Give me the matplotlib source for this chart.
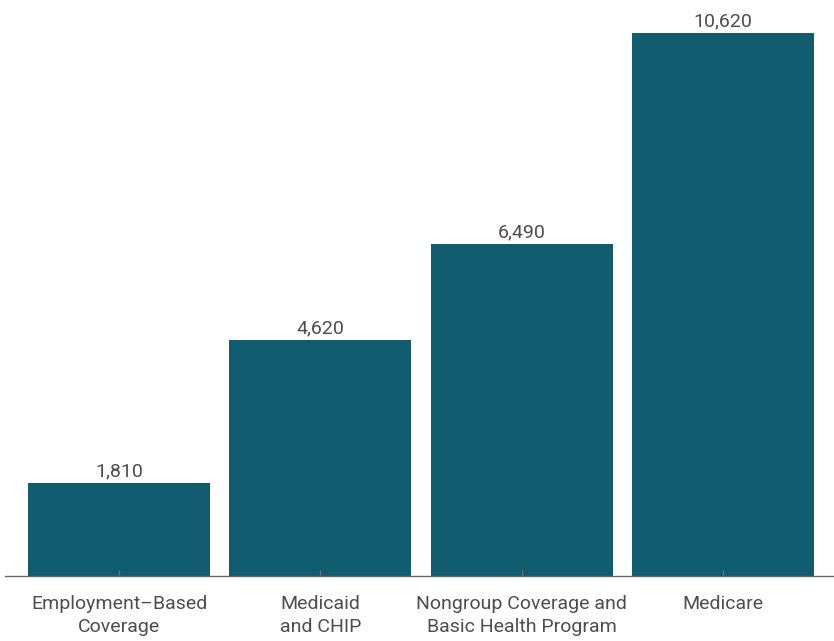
import matplotlib.pyplot as plt

categories = ['Employment\u2013Based\nCoverage', 'Medicaid\nand CHIP',
              'Nongroup Coverage and\nBasic Health Program', 'Medicare']
values = [1810, 4620, 6490, 10620]
value_labels = ['1,810', '4,620', '6,490', '10,620']

plt.rcParams['font.family'] = ['Roboto', 'DejaVu Sans']

fig = plt.figure(figsize=(8.34, 6.41), dpi=100)
ax = fig.add_axes([5 / 834, 65 / 641, 829 / 834, 566 / 641])

x = range(len(values))
bars = ax.bar(x, values, width=0.905, color='#125c70')

for b, lab in zip(bars, value_labels):
    ax.annotate(lab, (b.get_x() + b.get_width() / 2, b.get_height()),
                xytext=(0, 2), textcoords='offset points',
                ha='center', va='bottom', fontsize=14, color='#4d4d4d')

ax.set_xlim(-0.567, 3.552)
ax.set_ylim(0, 11070)
ax.set_xticks(list(x))
ax.set_xticklabels(categories, fontsize=14, color='#4d4d4d', linespacing=1.3)
ax.tick_params(axis='x', direction='in', length=4, width=0.8, color='#777777', pad=14)
ax.set_yticks([])

for s in ['top', 'right', 'left']:
    ax.spines[s].set_visible(False)
ax.spines['bottom'].set_color('#666666')
ax.spines['bottom'].set_linewidth(1)

fig.savefig('out.png', dpi=100)
